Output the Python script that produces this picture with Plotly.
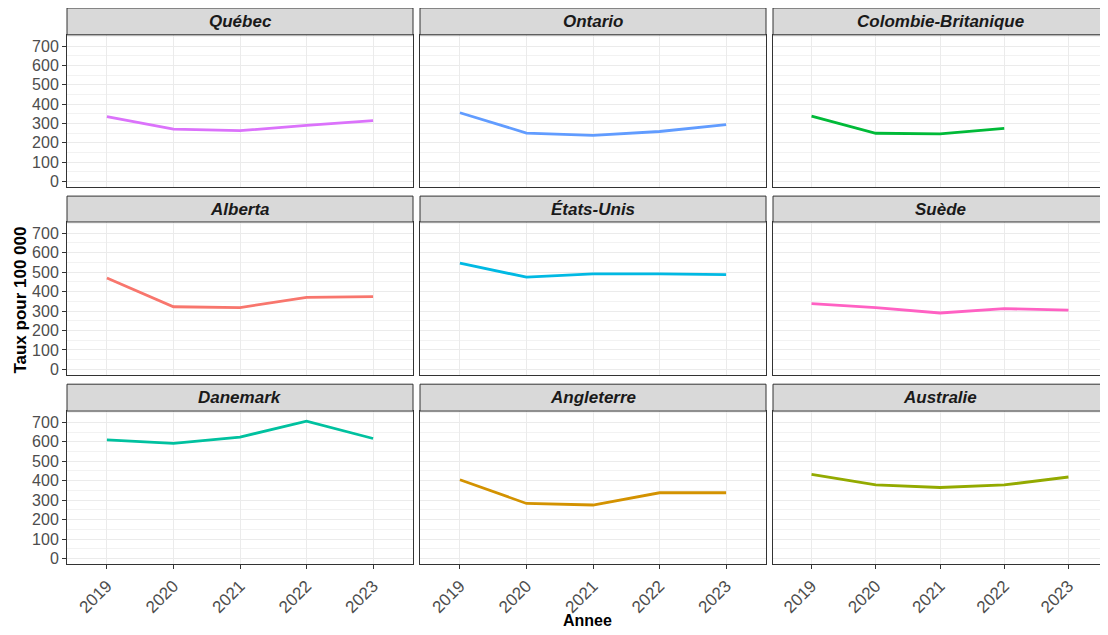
import plotly.graph_objects as go

years = [2019, 2020, 2021, 2022, 2023]
regions = ["Québec", "Ontario", "Colombie-Britanique",
           "Alberta", "États-Unis", "Suède",
           "Danemark", "Angleterre", "Australie"]

quebec = [335, 270, 262, 290, 314]
ontario = [355, 250, 238, 258, 293]
colombie_britanique = [337, 249, 246, 274, None]
alberta = [470, 322, 318, 370, 374]
etats_unis = [547, 474, 491, 491, 487]
suede = [338, 318, 290, 312, 305]
danemark = [610, 592, 624, 706, 617]
angleterre = [405, 283, 275, 338, 338]
australie = [433, 378, 365, 378, 419]

series = [quebec, ontario, colombie_britanique, alberta, etats_unis,
          suede, danemark, angleterre, australie]
colors = ["#DB72FB", "#619CFF", "#00BA38", "#F8766D", "#00B9E3",
          "#FF61C3", "#00C19F", "#D39200", "#93AA00"]

y_ticks = [0, 100, 200, 300, 400, 500, 600, 700]

# page body has an 8px margin; layout measured in window pixels
OFF = 8
W, H = 1108 - OFF, 635 - OFF
col_px = [(67, 413), (420, 766), (773, 1107)]
row_plot_px = [(35, 188), (223, 377), (413, 567)]
row_strip_px = [(8, 35), (197, 223), (386, 413)]


def px(v):
    return (v - OFF) / W


def py(v):
    return 1 - (v - OFF) / H


fig = go.Figure()
shapes = []
annotations = []
FONT = "Liberation Sans, Arial, sans-serif"

for i, (name, vals, col) in enumerate(zip(regions, series, colors)):
    r, c = divmod(i, 3)
    idx = i + 1
    xa = "x" if idx == 1 else f"x{idx}"
    ya = "y" if idx == 1 else f"y{idx}"
    xs = [y for y, v in zip(years, vals) if v is not None]
    vs = [v for v in vals if v is not None]
    fig.add_trace(go.Scatter(x=xs, y=vs, mode="lines",
                             line=dict(color=col, width=2.8),
                             xaxis=xa, yaxis=ya, showlegend=False))
    x0, x1 = col_px[c]
    y0, y1 = row_plot_px[r]
    xkey = "xaxis" if idx == 1 else f"xaxis{idx}"
    ykey = "yaxis" if idx == 1 else f"yaxis{idx}"
    fig.layout[xkey] = dict(
        domain=[px(x0), px(x1)], anchor=ya, range=[2018.4, 2023.6],
        tickvals=years, ticktext=[str(y) for y in years],
        showticklabels=(r == 2), ticks="outside" if r == 2 else "",
        ticklen=4, tickcolor="#333333", tickangle=-45,
        tickfont=dict(family=FONT, size=17, color="#4D4D4D"),
        showgrid=True, gridcolor="#EBEBEB", gridwidth=1,
        zeroline=False, showline=True, mirror=True,
        linecolor="#333333", linewidth=1, fixedrange=True,
    )
    fig.layout[ykey] = dict(
        domain=[py(y1), py(y0)], anchor=xa, range=[-30, 758],
        tickvals=y_ticks, showticklabels=(c == 0),
        ticks="outside" if c == 0 else "", ticklen=4, tickcolor="#333333",
        tickfont=dict(family=FONT, size=16, color="#4D4D4D"),
        showgrid=True, gridcolor="#EBEBEB", gridwidth=1,
        minor=dict(dtick=50, tick0=0, showgrid=True, gridcolor="#F2F2F2", gridwidth=1),
        zeroline=False, showline=True, mirror=True,
        linecolor="#333333", linewidth=1, fixedrange=True,
    )
    sy0, sy1 = row_strip_px[r]
    shapes.append(dict(type="rect", xref="paper", yref="paper",
                       x0=px(x0), x1=px(x1), y0=py(sy1), y1=py(sy0),
                       fillcolor="#D9D9D9", line=dict(color="#333333", width=1),
                       layer="above"))
    annotations.append(dict(text=f"<b><i>{name}</i></b>", xref="paper", yref="paper",
                            x=px((x0 + x1) / 2), y=py((sy0 + sy1) / 2),
                            xanchor="center", yanchor="middle", showarrow=False,
                            font=dict(family=FONT, size=17, color="#1A1A1A")))

annotations.append(dict(text="<b>Annee</b>", xref="paper", yref="paper",
                        x=px(587), y=py(623), xanchor="center", yanchor="middle",
                        showarrow=False, font=dict(family=FONT, size=16, color="black")))
annotations.append(dict(text="<b>Taux pour 100 000</b>", xref="paper", yref="paper",
                        x=px(21), y=py(302), xanchor="center", yanchor="middle",
                        textangle=-90, showarrow=False,
                        font=dict(family=FONT, size=17, color="black")))

fig.update_layout(width=W, height=H, margin=dict(l=0, r=0, t=0, b=0),
                  paper_bgcolor="white", plot_bgcolor="white",
                  shapes=shapes, annotations=annotations, showlegend=False)

fig.write_html("out.html", config={"displayModeBar": False})
